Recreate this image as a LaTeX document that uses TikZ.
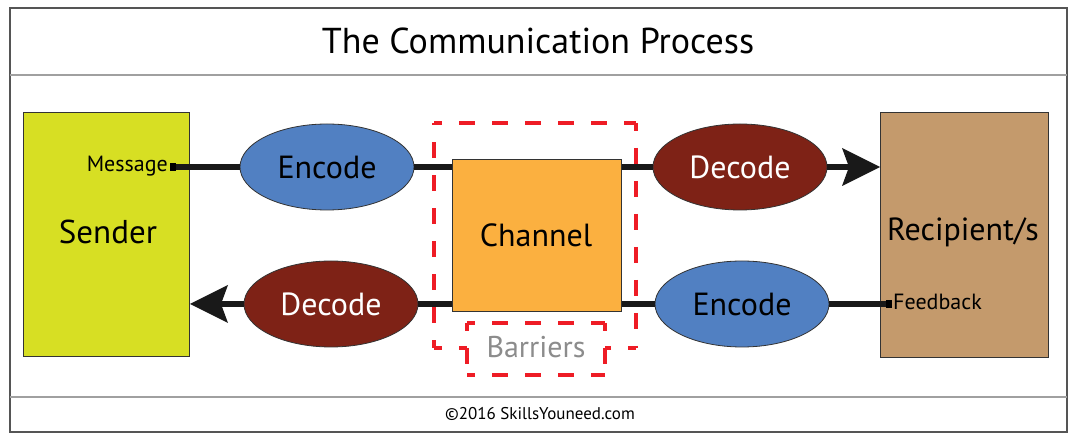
\documentclass[tikz,border=0pt]{standalone}
\usepackage{fontspec}
\setmainfont{PT Sans}
\usetikzlibrary{shapes.geometric,arrows.meta}
\definecolor{senderc}{HTML}{D7DF23}
\definecolor{recipc}{HTML}{C49A6C}
\definecolor{chanc}{HTML}{FBB040}
\definecolor{encc}{HTML}{5180C2}
\definecolor{decc}{HTML}{7E2216}
\definecolor{barc}{HTML}{EE1C25}
\definecolor{framec}{HTML}{555555}
\definecolor{sepc}{HTML}{A0A0A0}
\tikzset{
  box/.style={draw=black!80, line width=1pt, inner sep=0pt, anchor=north west},
  ell/.style={ellipse, draw=black!80, line width=0.8pt, inner sep=0pt, minimum width=174pt, minimum height=86pt},
  enc/.style={ell, fill=encc, text=black},
  dec/.style={ell, fill=decc, text=white},
  conn/.style={line width=6pt, draw=black!90},
  arr/.style={conn, -{Stealth[length=38pt,width=38pt,inset=7pt,line width=0pt]}},
  bar/.style={draw=barc, line width=3.2pt, dash pattern=on 16pt off 17pt, dash phase=8pt},
  lbl/.style={font=\fontsize{32}{34}\selectfont},
}
\begin{document}
\begin{tikzpicture}[x=1pt,y=-1pt]
\useasboundingbox (0,0) rectangle (1077,443);
\fill[white] (0,0) rectangle (1077,443);
% frame
\draw[framec, line width=1.8pt] (10,8) rectangle (1067,432);
\draw[sepc, line width=2pt] (10,75) -- (1067,75);
\draw[sepc, line width=2pt] (10,397) -- (1067,397);
\node[font=\fontsize{36}{38}\selectfont] (title) at (538,41) {The Communication Process};
\node[font=\fontsize{17}{19}\selectfont] (foot) at (540,414) {©2016 SkillsYouneed.com};
% boxes
\node[box, fill=senderc, minimum width=166pt, minimum height=244pt] (sender) at (23,112) {};
\node[font=\fontsize{33}{35}\selectfont] (sendert) at (108,232) {Sender};
\node[box, fill=recipc, minimum width=168pt, minimum height=245pt] (recip) at (880,112) {};
\node[font=\fontsize{32}{34}\selectfont] (recipt) at (963,232) {Recipient/s};
% ellipses
\node[enc, lbl] (enc1) at (327,167) {Encode};
\node[dec, lbl] (dec1) at (740,167) {Decode};
\node[dec, lbl] (dec2) at (331,304) {Decode};
\node[enc, lbl] (enc2) at (742,304) {Encode};
% message / feedback
\node[font=\fontsize{22}{24}\selectfont, anchor=east, inner sep=0pt] (msg) at (168,166) {Message};
\node[font=\fontsize{22}{24}\selectfont, anchor=west, inner sep=0pt] (fb) at (893,302) {Feedback};
\coordinate (msgend) at (170,167);
\coordinate (fbend) at (890,304);
% connectors
\draw[conn] (msgend) -- (enc1.west);
\draw[conn] (enc1.east) -- (dec1.west);
\draw[conn] (enc2.west) -- (dec2.east);
\draw[conn] (enc2.east) -- (fbend);
\fill[black] (msgend) ++(0,-4) rectangle ++(6,8);
\fill[black] (fbend) ++(-4,-4) rectangle ++(6,8);
\draw[arr] (dec1.east) -- (recip.west |- dec1.east);
\draw[arr] (dec2.west) -- (sender.east |- dec2.west);
% channel
\node[box, fill=chanc, minimum width=169pt, minimum height=152pt] (chan) at (452,159) {};
\node[lbl] (chant) at (536,235) {Channel};
% barriers
\coordinate (b1) at (434,123);
\coordinate (b2) at (636,123);
\coordinate (b3) at (636,348);
\coordinate (b4) at (434,348);
\draw[bar] (b1) -- (b2);
\draw[bar] (b2) -- (b3);
\draw[bar] (b4) -- (b1);
\draw[bar] (b4) -- (467,348);
\draw[bar] (b3) -- (605,348);
\coordinate (c1) at (467,323);
\coordinate (c2) at (605,323);
\coordinate (c3) at (605,375);
\coordinate (c4) at (467,375);
\draw[bar] (c1) -- (c2);
\draw[bar] (c2) -- (c3);
\draw[bar] (c4) -- (c3);
\draw[bar] (c1) -- (c4);
\node[font=\fontsize{30}{32}\selectfont, text=black!45] (barriers) at (536,347) {Barriers};
\end{tikzpicture}
\end{document}
